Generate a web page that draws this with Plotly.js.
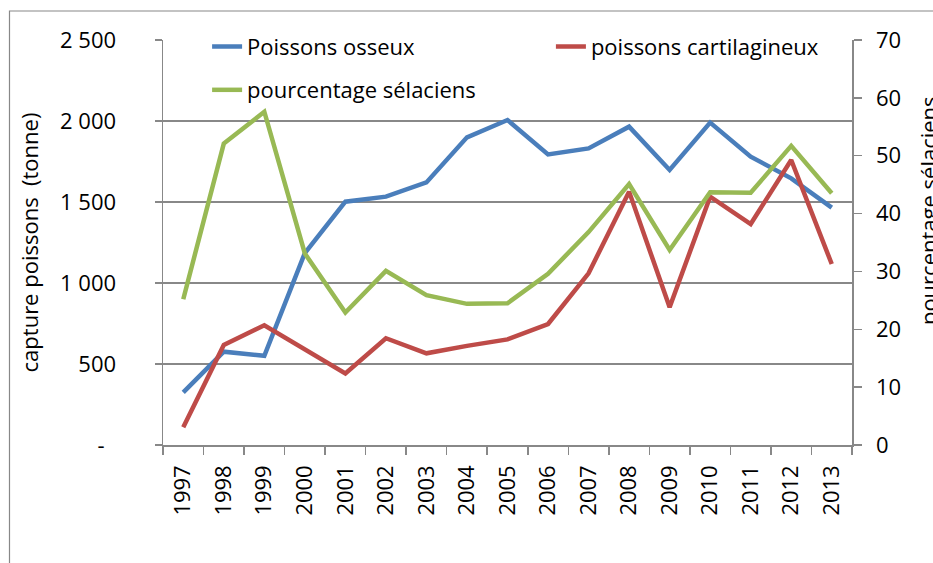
<!DOCTYPE html>
<html>
<head>
<meta charset="utf-8">
<script src="https://cdn.plot.ly/plotly-3.0.1.min.js"></script>
<style>html,body{margin:0;padding:0;background:#fff;}#chart{width:933px;height:563px;}</style>
</head>
<body>
<div id="chart"></div>
<script>
const years = ['1997','1998','1999','2000','2001','2002','2003','2004','2005','2006','2007','2008','2009','2010','2011','2012','2013'];
const poissonsOsseux = [325, 576, 551, 1185, 1502, 1533, 1621, 1899, 2006, 1794, 1831, 1965, 1698, 1990, 1780, 1646, 1465];
const poissonsCartilagineux = [109, 617, 739, 592, 442, 659, 566, 612, 652, 747, 1060, 1564, 850, 1533, 1364, 1759, 1117];
const pourcentageSelaciens = [25.2, 52.1, 57.6, 33.1, 22.9, 30.1, 25.9, 24.4, 24.5, 29.6, 36.8, 45.1, 33.7, 43.7, 43.6, 51.7, 43.5];
const leftTickVals = [0, 500, 1000, 1500, 2000, 2500];
const leftTickText = ['-\u00a0\u00a0', '500', '1\u00a0000', '1\u00a0500', '2\u00a0000', '2\u00a0500'];
const rightTickVals = [0, 10, 20, 30, 40, 50, 60, 70];

const FONT = '"Open Sans", "Noto Sans", sans-serif';
const GRAY = '#888888';

const traces = [
  {x: years, y: poissonsOsseux, name: 'Poissons osseux', type: 'scatter', mode: 'lines',
   line: {color: '#4A7EBB', width: 4.5}, legend: 'legend', yaxis: 'y'},
  {x: years, y: poissonsCartilagineux, name: 'poissons cartilagineux', type: 'scatter', mode: 'lines',
   line: {color: '#BE4B48', width: 4.5}, legend: 'legend2', yaxis: 'y'},
  {x: years, y: pourcentageSelaciens, name: 'pourcentage sélaciens', type: 'scatter', mode: 'lines',
   line: {color: '#98B954', width: 4.5}, legend: 'legend3', yaxis: 'y2'}
];

const legendBase = {font: {family: FONT, size: 22, color: '#000'}, bgcolor: 'rgba(0,0,0,0)',
  xanchor: 'left', yanchor: 'middle', borderwidth: 0};

const layout = {
  width: 933, height: 563,
  margin: {l: 163, r: 81, t: 40, b: 118},
  paper_bgcolor: '#fff', plot_bgcolor: '#fff',
  font: {family: FONT, size: 22, color: '#000'},
  showlegend: true,
  legend: Object.assign({}, legendBase, {x: 0.064, y: 0.9835}),
  legend2: Object.assign({}, legendBase, {x: 0.563, y: 0.9835}),
  legend3: Object.assign({}, legendBase, {x: 0.064, y: 0.8765}),
  xaxis: {
    type: 'category', range: [-0.5, years.length - 0.5], tickangle: -90, tickson: 'boundaries',
    ticks: 'outside', ticklen: 8, tickcolor: GRAY, tickwidth: 1.5,
    showline: true, linecolor: GRAY, linewidth: 1.5,
    showgrid: false, zeroline: false,
    tickfont: {family: FONT, size: 22, color: '#000'},
    ticklabelstandoff: 10
  },
  yaxis: {
    range: [0, 2500], tickvals: leftTickVals, ticktext: leftTickText,
    ticks: 'outside', ticklen: 7, tickcolor: GRAY, tickwidth: 1.5,
    showline: true, linecolor: GRAY, linewidth: 1.5,
    showgrid: true, gridcolor: GRAY, gridwidth: 1.5, zeroline: false,
    tickfont: {family: FONT, size: 22, color: '#000'},
    ticklabelstandoff: 34,
    title: {text: 'capture poissons\u00a0\u00a0(tonne)', font: {family: FONT, size: 22, color: '#000'}, standoff: 15}
  },
  yaxis2: {
    overlaying: 'y', side: 'right', range: [0, 70], tickvals: rightTickVals,
    ticks: 'outside', ticklen: 8, tickcolor: GRAY, tickwidth: 1.5,
    showline: true, linecolor: GRAY, linewidth: 1.5,
    showgrid: false, zeroline: false,
    tickfont: {family: FONT, size: 22, color: '#000'},
    ticklabelstandoff: 10
  },
  annotations: [
    {text: 'pourcentage sélaciens', xref: 'paper', yref: 'paper', x: 1.0856, y: 0.58,
     xanchor: 'left', yanchor: 'middle', textangle: -90, showarrow: false,
     font: {family: FONT, size: 22, color: '#000'}}
  ],
  shapes: [
    {type: 'rect', xref: 'paper', yref: 'paper', x0: -0.2228, x1: 2, y0: -1, y1: 1.0716,
     line: {color: GRAY, width: 1.2}, fillcolor: 'rgba(0,0,0,0)', layer: 'below'}
  ]
};

Plotly.newPlot('chart', traces, layout, {staticPlot: true, displayModeBar: false});
</script>
</body>
</html>
